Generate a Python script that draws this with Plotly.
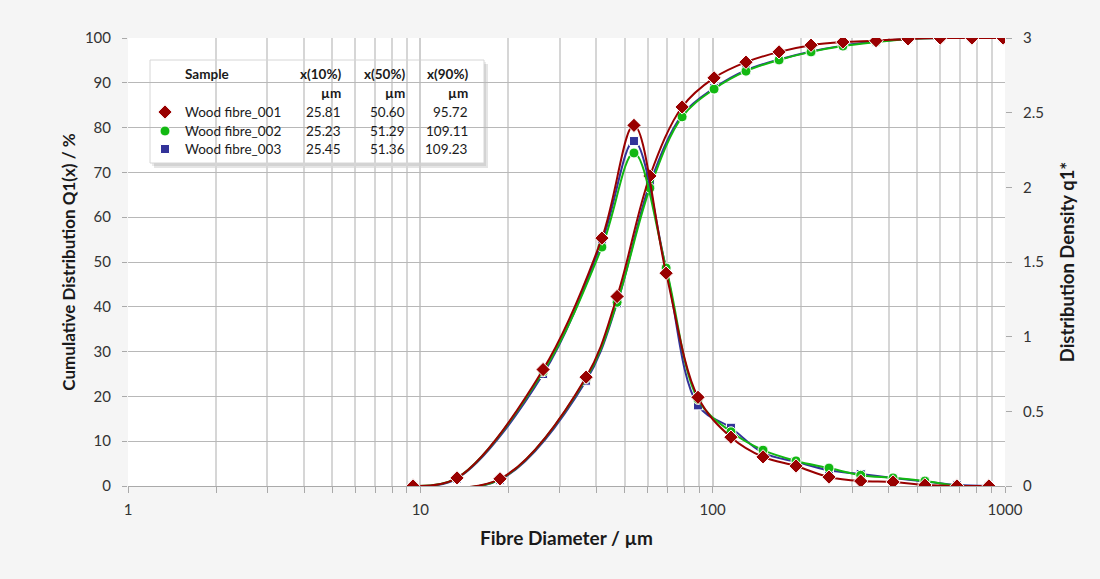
import plotly.graph_objects as go

# ---------------- data ----------------
x_density = [9.44, 13.35, 26.3, 41.8, 53.8, 69.3, 89.1, 115.5, 148.7, 192.8, 250, 321, 414, 532, 685, 881]
q_001 = [0, 0.054, 0.78, 1.66, 2.415, 1.425, 0.594, 0.327, 0.195, 0.134, 0.06, 0.033, 0.027, 0.007, 0.0, 0.0]
q_002 = [0, 0.054, 0.765, 1.60, 2.23, 1.46, 0.58, 0.363, 0.24, 0.168, 0.12, 0.072, 0.054, 0.033, 0.003, 0.0]
q_003 = [0, 0.050, 0.75, 1.635, 2.31, 1.455, 0.54, 0.39, 0.222, 0.162, 0.105, 0.08, 0.054, 0.03, 0.006, 0.0]

x_cum = [9.44, 18.73, 36.9, 47.1, 61.0, 78.6, 101.1, 130, 168.7, 217, 279, 362, 466, 600, 771, 985]
Q_001 = [0, 1.6, 24.3, 42.3, 69.2, 84.6, 91.1, 94.6, 96.9, 98.4, 99.1, 99.4, 99.8, 100, 100, 100]
Q_002 = [0, 1.5, 24.0, 41.0, 66.5, 82.4, 88.6, 92.6, 95.1, 96.9, 98.2, 99.1, 99.8, 100, 100, 100]
Q_003 = [0, 1.4, 23.5, 40.8, 67.5, 82.8, 88.8, 92.8, 95.2, 97.0, 98.3, 99.2, 99.8, 100, 100, 100]

samples = ["Wood fibre_001", "Wood fibre_002", "Wood fibre_003"]
x10 = ["25.81", "25.23", "25.45"]
x50 = ["50.60", "51.29", "51.36"]
x90 = ["95.72", "109.11", "109.23"]

colors = ["#990000", "#12b812", "#333399"]
symbols = ["diamond", "circle", "square"]
msizes = [11, 10, 9]

x_ticks = [1, 10, 100, 1000]
x_minor = [m * d for d in [1, 10, 100] for m in range(2, 10)]

FONT = "Lato"
W, H = 1100, 579
L, R, T, B = 128, 95, 38, 93
PW, PH = W - L - R, H - T - B

def px(xp):
    return (xp - L) / PW

def py(yp):
    return (H - B - yp) / PH

fig = go.Figure()

cum = [Q_001, Q_002, Q_003]
dens = [q_001, q_002, q_003]
order = [2, 1, 0]
for i in order:
    fig.add_trace(go.Scatter(
        x=x_cum, y=cum[i], mode="lines+markers", name=samples[i],
        line=dict(color=colors[i], width=2, shape="spline", smoothing=1.0),
        marker=dict(symbol=symbols[i], size=msizes[i], color=colors[i],
                    line=dict(color="white", width=1)),
        showlegend=False, xaxis="x", yaxis="y"))
for i in order:
    fig.add_trace(go.Scatter(
        x=x_density, y=dens[i], mode="lines+markers", name=samples[i],
        line=dict(color=colors[i], width=2, shape="spline", smoothing=1.0),
        marker=dict(symbol=symbols[i], size=msizes[i], color=colors[i],
                    line=dict(color="white", width=1)),
        showlegend=False, xaxis="x", yaxis="y2"))

# legend table markers on an overlay unit axis
row_y = [112, 131, 149]
for i in range(3):
    fig.add_trace(go.Scatter(
        x=[px(165)], y=[py(row_y[i])], mode="markers",
        marker=dict(symbol=symbols[i], size=msizes[i], color=colors[i],
                    line=dict(color="white", width=1)),
        showlegend=False, xaxis="x3", yaxis="y3", hoverinfo="skip"))

shapes = [
    dict(type="rect", xref="paper", yref="paper", layer="between",
         x0=px(154), x1=px(488), y0=py(60 + 4), y1=py(164 + 4),
         fillcolor="rgba(0,0,0,0.10)", line=dict(width=0)),
    dict(type="rect", xref="paper", yref="paper", layer="between",
         x0=px(152), x1=px(486), y0=py(62), y1=py(166),
         fillcolor="rgba(0,0,0,0.08)", line=dict(width=0)),
    dict(type="rect", xref="paper", yref="paper", layer="between",
         x0=px(150), x1=px(484), y0=py(60), y1=py(163),
         fillcolor="white", line=dict(color="#d6d6d6", width=1)),
]

ann = []
def txt(x, y, s, anchor="left", bold=False, size=13.5):
    ann.append(dict(x=px(x), y=py(y), xref="paper", yref="paper", text=("<b>%s</b>" % s) if bold else s,
                    showarrow=False, xanchor=anchor, yanchor="middle",
                    font=dict(family=FONT, size=size, color="#1a1a1a")))

txt(183, 74, "Sample", bold=True)
for xr, h in zip([343, 407, 470], ["x(10%)", "x(50%)", "x(90%)"]):
    txt(xr, 74, h, anchor="right", bold=True)
    txt(xr, 93, "µm", anchor="right", bold=True)
for i in range(3):
    txt(183, row_y[i], samples[i])
    txt(343, row_y[i], x10[i], anchor="right")
    txt(407, row_y[i], x50[i], anchor="right")
    txt(470, row_y[i], x90[i], anchor="right")

fig.update_layout(
    width=W, height=H,
    margin=dict(l=L, r=R, t=T, b=B),
    paper_bgcolor="#f5f5f5", plot_bgcolor="white",
    font=dict(family=FONT, size=15, color="#333333"),
    xaxis=dict(type="log", range=[0, 3], tickvals=x_ticks, ticktext=[str(v) for v in x_ticks],
               showgrid=True, gridcolor="#cfcfcf", gridwidth=2,
               ticks="outside", ticklen=6, tickcolor="#aaaaaa", ticklabelstandoff=4,
               minor=dict(tickvals=x_minor, showgrid=True, gridcolor="#d6d6d6", gridwidth=2,
                          ticks="outside", ticklen=6, tickcolor="#aaaaaa"),
               showline=True, linecolor="#aaaaaa", linewidth=1,
               zeroline=False,
               title=dict(text="<b>Fibre Diameter / µm</b>", font=dict(size=19, color="#1a1a1a"), standoff=14),
               tickfont=dict(size=15, color="#333333")),
    yaxis=dict(range=[0, 100], dtick=10, showgrid=True, gridcolor="#b8b8b8", gridwidth=1,
               zeroline=False, ticks="outside", ticklen=5, tickcolor="#aaaaaa", ticklabelstandoff=8,
               showline=False,
               title=dict(text="<b>Cumulative Distribution Q1(x) / %</b>", font=dict(size=17, color="#1a1a1a"), standoff=4),
               tickfont=dict(size=15, color="#333333")),
    yaxis2=dict(range=[0, 3], dtick=0.5, overlaying="y", side="right", showgrid=False, zeroline=False,
                ticks="outside", ticklen=6, tickcolor="#aaaaaa", ticklabelstandoff=8,
                title=dict(text="<b>Distribution Density q1*</b>", font=dict(size=18.5, color="#1a1a1a"), standoff=18),
                tickfont=dict(size=15, color="#333333")),
    xaxis3=dict(overlaying="x", range=[0, 1], visible=False, fixedrange=True),
    yaxis3=dict(overlaying="y", range=[0, 1], visible=False, fixedrange=True),
    shapes=shapes, annotations=ann,
)

fig.write_html("out.html")
